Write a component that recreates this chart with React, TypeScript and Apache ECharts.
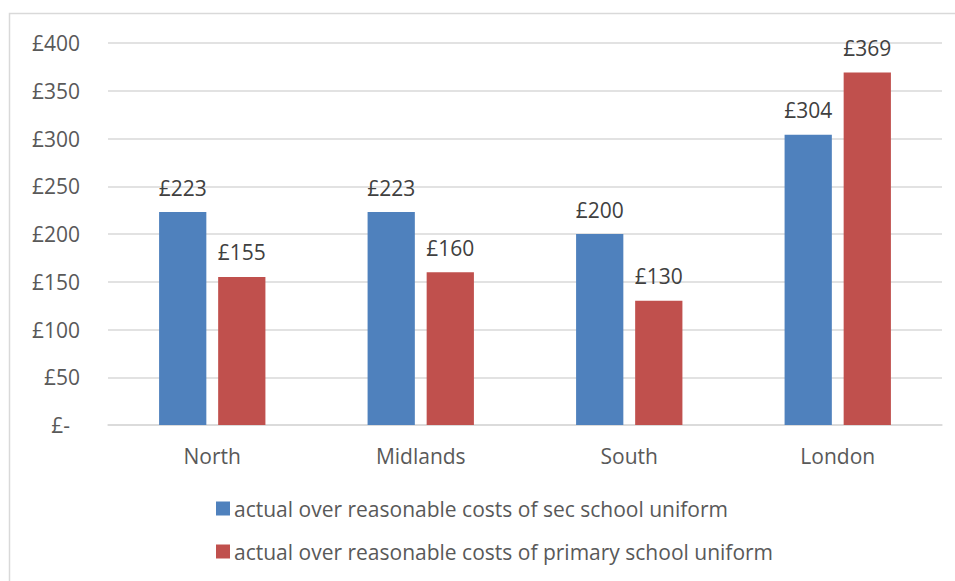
import React, { useEffect, useRef } from "react";
import * as echarts from "echarts";

const regions = ["North", "Midlands", "South", "London"];
const secUniform = [223, 223, 200, 304];
const primaryUniform = [155, 160, 130, 369];
const seriesNames = [
  "actual over reasonable costs of sec school uniform",
  "actual over reasonable costs of primary school uniform",
];

const FONT = "'Open Sans', 'Noto Sans', sans-serif";
const TEXT = "#595959";
const FS = 21;

export default function App() {
  const ref = useRef<HTMLDivElement>(null);
  useEffect(() => {
    if (!ref.current) return;
    const chart = echarts.init(ref.current, null, { renderer: "svg" });
    const label = {
      show: true,
      position: "top" as const,
      distance: 14,
      color: "#404040",
      fontSize: FS,
      fontFamily: FONT,
      formatter: (p: any) => "£" + p.value,
    };
    chart.setOption({
      animation: false,
      backgroundColor: "#ffffff",
      textStyle: { fontFamily: FONT },
      graphic: [
        {
          type: "rect",
          shape: { x: 9.5, y: 13.5, width: 1000, height: 1000 },
          style: { fill: "none", stroke: "#d9d9d9", lineWidth: 1.5 },
          silent: true,
        },
      ],
      grid: { left: 108, right: 13, top: 43, bottom: 156, containLabel: false },
      xAxis: {
        type: "category",
        data: regions,
        axisLine: { lineStyle: { color: "#d9d9d9", width: 1.5 } },
        axisTick: { show: false },
        axisLabel: { color: TEXT, fontSize: FS, fontFamily: FONT, margin: 20 },
      },
      yAxis: {
        type: "value",
        min: 0,
        max: 400,
        interval: 50,
        axisLine: { show: false },
        axisTick: { show: false },
        splitLine: { lineStyle: { color: "#d9d9d9", width: 1.5 } },
        axisLabel: {
          color: TEXT,
          fontSize: FS,
          fontFamily: FONT,
          margin: 28,
          formatter: (v: number) => (v === 0 ? "{z|£-}" : "£" + v),
          rich: { z: { color: TEXT, fontSize: FS, fontFamily: FONT, padding: [0, 10, 0, 0] } },
        },
      },
      legend: {
        orient: "vertical",
        left: 211,
        top: 493,
        itemWidth: 14,
        itemHeight: 14,
        itemGap: 22,
        icon: "rect",
        textStyle: { color: TEXT, fontSize: FS, fontFamily: FONT, padding: [0, 0, 0, -1] },
        data: seriesNames,
      },
      series: [
        {
          name: seriesNames[0],
          type: "bar",
          data: secUniform,
          itemStyle: { color: "#4F81BD" },
          barGap: "25%",
          barCategoryGap: "49%",
          label,
        },
        {
          name: seriesNames[1],
          type: "bar",
          data: primaryUniform,
          itemStyle: { color: "#C0504D" },
          barGap: "25%",
          barCategoryGap: "49%",
          label,
        },
      ],
    });
    return () => chart.dispose();
  }, []);
  return (
    <div
      ref={ref}
      style={{ position: "fixed", left: 0, top: 0, width: 955, height: 581 }}
    />
  );
}
